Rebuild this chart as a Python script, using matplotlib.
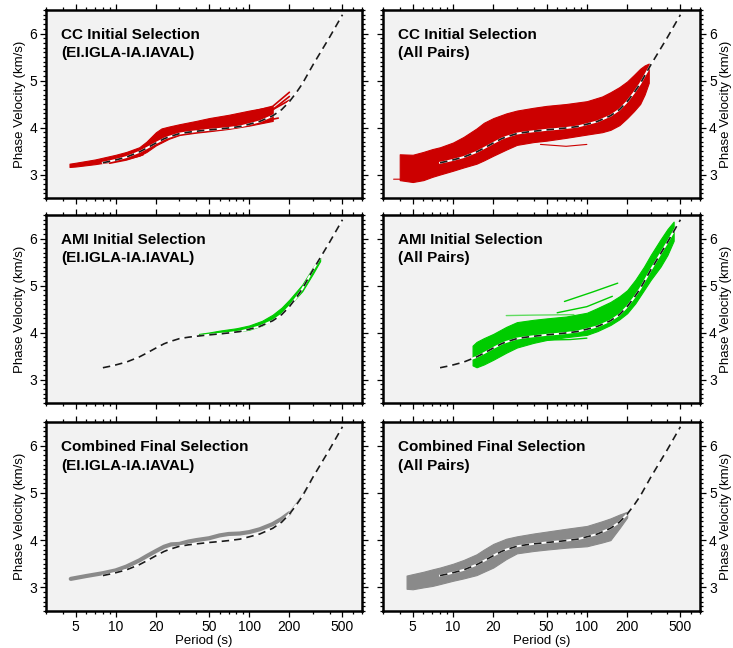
import matplotlib
matplotlib.use("Agg")
import matplotlib.pyplot as plt
from matplotlib.ticker import FixedLocator, FixedFormatter, LogLocator, NullFormatter, MultipleLocator

plt.rcParams['font.family'] = ['Liberation Sans', 'DejaVu Sans']

# ---------------- data ----------------
x_ticks = [5, 10, 20, 50, 100, 200, 500]
x_tick_labels = ["5", "10", "20", "50", "100", "200", "500"]
y_ticks = [3, 4, 5, 6]

# reference (dashed) dispersion curve
ref_period = [8, 9, 10, 12, 15, 17, 20, 23, 25, 30, 35, 40, 50, 60, 70, 85, 100, 120, 150, 175,
              200, 225, 250, 300, 400, 500]
ref_vel = [3.25, 3.28, 3.31, 3.37, 3.48, 3.56, 3.67, 3.76, 3.80, 3.87, 3.90, 3.92, 3.95, 3.97, 3.99,
           4.02, 4.07, 4.13, 4.25, 4.38, 4.55, 4.74, 4.93, 5.33, 5.92, 6.40]

# CC initial selection, single pair (band + individual strands)
cc1_period = [4.5, 5, 7, 10, 12, 15, 17, 20, 22, 25, 30, 40, 50, 70, 100, 150]
cc1_lo = [3.16, 3.17, 3.22, 3.29, 3.33, 3.40, 3.48, 3.62, 3.68, 3.76, 3.84, 3.89, 3.92, 3.97, 4.04, 4.14]
cc1_hi = [3.23, 3.25, 3.32, 3.42, 3.48, 3.58, 3.70, 3.90, 3.98, 4.02, 4.07, 4.14, 4.20, 4.27, 4.36, 4.45]
cc1_strand_a_p = [100, 150, 200]
cc1_strand_a_v = [4.32, 4.45, 4.75]
cc1_strand_b_p = [100, 150, 200]
cc1_strand_b_v = [4.25, 4.38, 4.66]
cc1_strand_c_p = [90, 130, 200]
cc1_strand_c_v = [4.15, 4.28, 4.58]
cc1_strand_d_p = [80, 120, 165]
cc1_strand_d_v = [4.05, 4.12, 4.20]
cc1_strand_e_p = [9, 12, 16]
cc1_strand_e_v = [3.24, 3.31, 3.42]

# CC initial selection, all pairs
cc2_period = [4.0, 5, 6, 7, 8, 10, 12, 15, 17, 20, 25, 30, 40, 50, 70, 100, 130, 150, 175, 200,
              225, 250, 270, 290]
cc2_lo = [2.88, 2.84, 2.88, 2.95, 3.00, 3.08, 3.15, 3.23, 3.30, 3.40, 3.53, 3.63, 3.69, 3.72, 3.78,
          3.85, 3.90, 3.95, 4.05, 4.20, 4.35, 4.50, 4.70, 4.95]
cc2_hi = [3.43, 3.42, 3.48, 3.54, 3.58, 3.68, 3.80, 3.98, 4.10, 4.20, 4.30, 4.36, 4.42, 4.46, 4.50,
          4.56, 4.66, 4.75, 4.86, 4.98, 5.12, 5.25, 5.32, 5.36]
cc2_strand_a_p = [3.6, 4.0, 4.6]
cc2_strand_a_v = [2.90, 2.90, 2.88]
cc2_strand_b_p = [45, 70, 100]
cc2_strand_b_v = [3.64, 3.60, 3.64]

# AMI initial selection, single pair
ami1_period = [42, 50, 60, 80, 100, 125, 150, 175, 200, 250, 300, 340]
ami1_lo = [3.94, 3.96, 3.98, 4.02, 4.06, 4.15, 4.28, 4.42, 4.58, 4.88, 5.25, 5.52]
ami1_hi = [3.97, 4.00, 4.04, 4.09, 4.15, 4.25, 4.38, 4.53, 4.70, 5.02, 5.38, 5.60]

# AMI initial selection, all pairs
ami2_period = [14, 15, 17, 20, 25, 30, 40, 50, 70, 100, 120, 150, 175, 200, 230, 267, 300, 355, 400, 445]
ami2_lo = [3.30, 3.26, 3.32, 3.42, 3.57, 3.68, 3.78, 3.84, 3.90, 3.95, 4.03, 4.16, 4.28, 4.41, 4.62,
           4.90, 5.12, 5.40, 5.65, 5.95]
ami2_hi = [3.72, 3.80, 3.88, 3.97, 4.12, 4.22, 4.27, 4.30, 4.34, 4.42, 4.52, 4.65, 4.77, 4.90, 5.12,
           5.40, 5.65, 5.98, 6.20, 6.36]
ami2_strand_a_p = [68, 110, 170]
ami2_strand_a_v = [4.66, 4.86, 5.05]
ami2_strand_b_p = [60, 100, 155]
ami2_strand_b_v = [4.42, 4.55, 4.77]
ami2_strand_c_p = [25, 40, 80]
ami2_strand_c_v = [4.36, 4.37, 4.38]
ami2_strand_d_p = [50, 75, 100]
ami2_strand_d_v = [3.84, 3.85, 3.88]

# Combined final selection, single pair
comb1_period = [4.6, 6, 8, 10, 12, 15, 17, 20, 23, 26, 30, 35, 40, 50, 60, 70, 85, 100, 120, 150, 175, 200]
comb1_vel = [3.18, 3.24, 3.30, 3.36, 3.44, 3.57, 3.66, 3.77, 3.86, 3.91, 3.92, 3.97, 4.00, 4.04, 4.10,
             4.13, 4.14, 4.17, 4.23, 4.34, 4.45, 4.57]
comb1_tail_p = [200, 250, 290]
comb1_tail_v = [4.57, 4.93, 5.25]

# Combined final selection, all pairs
comb2_period = [4.5, 5, 6, 7, 8, 10, 12, 15, 17, 20, 25, 30, 40, 50, 70, 100, 130, 150, 175, 200]
comb2_lo = [2.97, 2.96, 3.00, 3.03, 3.07, 3.14, 3.19, 3.26, 3.33, 3.42, 3.60, 3.72, 3.77, 3.80, 3.84,
            3.87, 3.95, 4.00, 4.25, 4.48]
comb2_hi = [3.25, 3.28, 3.33, 3.38, 3.42, 3.50, 3.58, 3.70, 3.80, 3.92, 4.03, 4.08, 4.14, 4.18, 4.24,
            4.30, 4.40, 4.46, 4.54, 4.60]

RED = "#cc0000"
GREEN = "#00cc00"
GRAY = "#8a8a8a"
BG = "#f2f2f2"

fig = plt.figure(figsize=(7.33, 6.48), dpi=100)

col_x = [46 / 733, 383 / 733]
col_w = [316 / 733, 317 / 733]
row_y = [1 - 198 / 648, 1 - 403 / 648, 1 - 611 / 648]
row_h = [188 / 648, 188 / 648, 189 / 648]

titles = [
    ["CC Initial Selection\n(EI.IGLA-IA.IAVAL)", "CC Initial Selection\n(All Pairs)"],
    ["AMI Initial Selection\n(EI.IGLA-IA.IAVAL)", "AMI Initial Selection\n(All Pairs)"],
    ["Combined Final Selection\n(EI.IGLA-IA.IAVAL)", "Combined Final Selection\n(All Pairs)"],
]

axes = [[None, None] for _ in range(3)]
for r in range(3):
    for c in range(2):
        ax = fig.add_axes([col_x[c], row_y[r], col_w[c], row_h[r]])
        axes[r][c] = ax
        ax.set_facecolor(BG)
        ax.set_xscale("log")
        ax.set_xlim(3, 700)
        ax.set_ylim(2.5, 6.5)
        ax.xaxis.set_major_locator(FixedLocator(x_ticks))
        ax.xaxis.set_minor_locator(LogLocator(base=10, subs=(2, 3, 4, 5, 6, 7, 8, 9), numticks=20))
        ax.xaxis.set_minor_formatter(NullFormatter())
        ax.yaxis.set_major_locator(FixedLocator(y_ticks))
        ax.yaxis.set_minor_locator(MultipleLocator(0.1))
        if r == 2:
            ax.xaxis.set_major_formatter(FixedFormatter(x_tick_labels))
            ax.set_xlabel("Period (s)", fontsize=9.5, labelpad=1)
        else:
            ax.xaxis.set_major_formatter(NullFormatter())
        ax.tick_params(which="both", direction="out", top=True, bottom=True, left=True, right=True,
                       width=0.9, colors="black", labelsize=10)
        ax.tick_params(which="major", length=4, pad=2.5)
        ax.tick_params(which="minor", length=2)
        ax.set_ylabel("Phase Velocity (km/s)", fontsize=9.5)
        ax.yaxis.label.set_va("center")
        if c == 0:
            ax.tick_params(axis="y", labelleft=True, labelright=False)
            ax.yaxis.set_label_coords((20 - 46) / 316, 0.5)
        else:
            ax.tick_params(axis="y", labelleft=False, labelright=True)
            ax.yaxis.set_label_position("right")
            ax.yaxis.set_label_coords((720 - 383) / 317, 0.5)
        for s in ax.spines.values():
            s.set_linewidth(1.8)
        ax.text(0.048, 0.905, titles[r][c], transform=ax.transAxes, ha="left", va="top",
                fontsize=11, fontweight="bold", linespacing=1.42, zorder=6)


def band(ax, p, lo, hi, color):
    ax.fill_between(p, lo, hi, facecolor=color, edgecolor=color, linewidth=0.8, zorder=2)


def strand(ax, p, v, color, lw=0.9, alpha=1.0):
    ax.plot(p, v, color=color, lw=lw, alpha=alpha, zorder=2, solid_capstyle="round")


def reference(ax):
    ax.plot(ref_period, ref_vel, color="white", lw=1.4, zorder=4)
    ax.plot(ref_period, ref_vel, color="#1a1a1a", lw=1.2, linestyle=(0, (4.5, 3)), zorder=5)


# CC single pair
ax = axes[0][0]
band(ax, cc1_period, cc1_lo, cc1_hi, RED)
strand(ax, cc1_strand_a_p, cc1_strand_a_v, RED, 1.2)
strand(ax, cc1_strand_b_p, cc1_strand_b_v, RED, 1.2)
strand(ax, cc1_strand_c_p, cc1_strand_c_v, RED, 1.2)
strand(ax, cc1_strand_d_p, cc1_strand_d_v, RED, 1.2)
strand(ax, cc1_strand_e_p, cc1_strand_e_v, RED, 1.2)
reference(ax)

# CC all pairs
ax = axes[0][1]
band(ax, cc2_period, cc2_lo, cc2_hi, RED)
strand(ax, cc2_strand_a_p, cc2_strand_a_v, RED, 0.8)
strand(ax, cc2_strand_b_p, cc2_strand_b_v, RED, 0.8)
reference(ax)

# AMI single pair
ax = axes[1][0]
band(ax, ami1_period, ami1_lo, ami1_hi, GREEN)
reference(ax)

# AMI all pairs
ax = axes[1][1]
band(ax, ami2_period, ami2_lo, ami2_hi, GREEN)
strand(ax, ami2_strand_a_p, ami2_strand_a_v, GREEN, 1.0)
strand(ax, ami2_strand_b_p, ami2_strand_b_v, GREEN, 1.0)
strand(ax, ami2_strand_c_p, ami2_strand_c_v, GREEN, 1.0, 0.6)
strand(ax, ami2_strand_d_p, ami2_strand_d_v, GREEN, 1.0)
reference(ax)

# Combined single pair
ax = axes[2][0]
ax.plot(comb1_period, comb1_vel, color=GRAY, lw=3.0, zorder=2, solid_capstyle="round")
ax.plot(comb1_tail_p, comb1_tail_v, color="#b8b8b8", lw=1.5, zorder=2)
reference(ax)

# Combined all pairs
ax = axes[2][1]
band(ax, comb2_period, comb2_lo, comb2_hi, GRAY)
reference(ax)

fig.savefig("out.png", dpi=100)
